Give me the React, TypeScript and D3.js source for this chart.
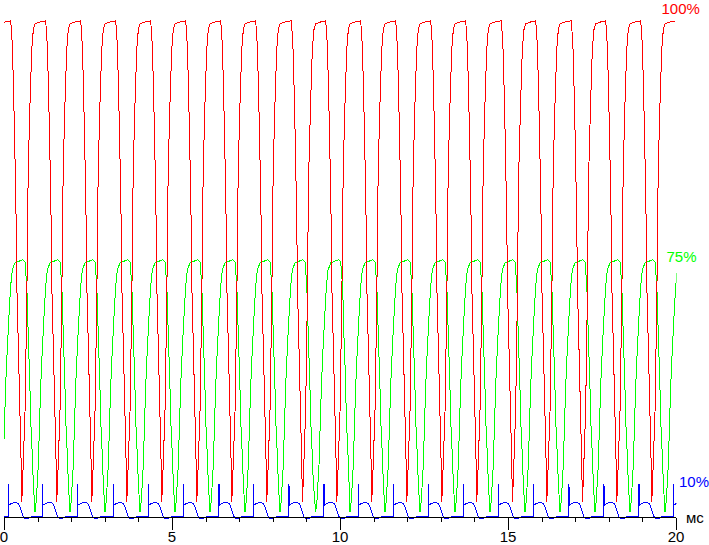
// @ts-nocheck
import React from 'react'
import * as d3 from 'd3'

// cycle anchors (ms)
const redBottoms = [-0.515, 0.527, 1.568, 2.61, 3.652, 4.693, 5.735, 6.777, 7.818, 8.878, 9.902, 10.943, 11.985, 13.027, 14.068, 15.128, 16.152, 17.211, 18.235, 19.277]
const greenBottoms = [-0.12, 0.923, 1.964, 3.006, 4.048, 5.089, 6.131, 7.173, 8.214, 9.277, 10.298, 11.339, 12.381, 13.423, 14.464, 15.506, 16.548, 17.589, 18.631, 19.673]
const blueSpikes = [0.128, 1.152, 2.193, 3.253, 4.295, 5.336, 6.399, 7.42, 8.482, 9.524, 10.545, 11.586, 12.628, 13.67, 14.711, 15.753, 16.815, 17.857, 18.899, 19.92]

// one pulse of each trace, [ms from anchor, level]
const redPulse = [
  [-0.327, 99.9], [-0.28, 95.0], [-0.25, 87.9], [-0.22, 79.0], [-0.19, 68.8], [-0.161, 57.8],
  [-0.149, 47.7], [-0.101, 34.7], [-0.051, 20.6], [-0.012, 9.5], [0, 3.1], [0.018, 5.5],
  [0.048, 11.2], [0.098, 21.2], [0.128, 33.7], [0.158, 47.7], [0.167, 55.8], [0.196, 70.5],
  [0.247, 83.3], [0.298, 94.0], [0.345, 98.0], [0.396, 99.2], [0.494, 99.5], [0.595, 99.7], [0.693, 99.8],
]
const greenPulse = [
  [0, 1.1], [0.039, 3.5], [0.098, 10.6], [0.14, 20.2], [0.179, 28.0], [0.217, 33.7], [0.268, 40.5],
  [0.318, 46.5], [0.366, 49.7], [0.446, 51.2], [0.595, 51.6], [0.685, 51.8], [0.744, 51.4],
  [0.795, 46.9], [0.824, 41.7], [0.842, 36.1], [0.884, 28.4], [0.914, 19.6], [0.961, 12.6], [0.991, 7.1],
]
const bluePulse = [
  [-0.003, 0.16], [0, 6.8], [0.009, 2.5], [0.098, 2.85], [0.199, 3.05], [0.298, 2.85], [0.348, 2.17],
  [0.396, 1.17], [0.446, 0.16], [0.497, -0.16], [0.595, -0.16], [0.646, 0.04], [0.685, 0.16],
]

const majorTicks = [0, 5, 10, 15, 20]
const majorLabels = ['0', '5', '10', '15', '20']

const W = 709
const H = 545
const x = d3.scaleLinear().domain([0, 20]).range([4, 676])
const y = d3.scaleLinear().domain([0, 100]).range([517.5, 20])
const line = d3.line().x((d) => x(d[0])).y((d) => y(d[1]))

const trace = (anchors, pulse, start) => {
  const pts = start ? [start] : []
  anchors.forEach((a) => pulse.forEach((p) => pts.push([a + p[0], p[1]])))
  return pts
}

const font = 'Liberation Sans, Arial, sans-serif'

export default function App() {
  const red = trace(redBottoms, redPulse)
  const green = trace(greenBottoms, greenPulse)
  const blue = trace(blueSpikes, bluePulse, [0, 0.16])
  blue.push([20.2, 0.16])

  return (
    <svg width={W} height={H} style={{ position: 'absolute', left: 0, top: 0, background: '#fff' }}>
      <defs>
        <clipPath id="plot">
          <rect x={x(0)} y={0} width={x(20) - x(0) + 0.5} height={H} />
        </clipPath>
      </defs>
      <g clipPath="url(#plot)" fill="none" strokeWidth={1} shapeRendering="crispEdges">
        <path d={line(green)} stroke="#00ff00" />
        <path d={line(red)} stroke="#ff0000" />
        <path d={line(blue)} stroke="#0000ff" />
      </g>
      <g shapeRendering="crispEdges" stroke="#000">
        <line x1={x(0)} x2={x(20)} y1={517.5} y2={517.5} />
        {x.ticks(20).map((t) => (
          <line key={t} x1={Math.round(x(t)) + 0.5} x2={Math.round(x(t)) + 0.5} y1={517.5} y2={522} />
        ))}
        {majorTicks.map((t) => (
          <line key={t} x1={Math.round(x(t)) + 0.5} x2={Math.round(x(t)) + 0.5} y1={517.5} y2={530} />
        ))}
      </g>
      <g fontFamily={font} fontSize={15}>
        {majorTicks.map((t, i) => (
          <text key={t} x={x(t)} y={541.5} textAnchor="middle">
            {majorLabels[i]}
          </text>
        ))}
        <text x={686} y={523}>мс</text>
        <text x={661.5} y={14} fill="#ff0000">100%</text>
        <text x={666.5} y={262} fill="#00ff00">75%</text>
        <text x={679} y={487} fill="#0000ff">10%</text>
      </g>
    </svg>
  )
}
